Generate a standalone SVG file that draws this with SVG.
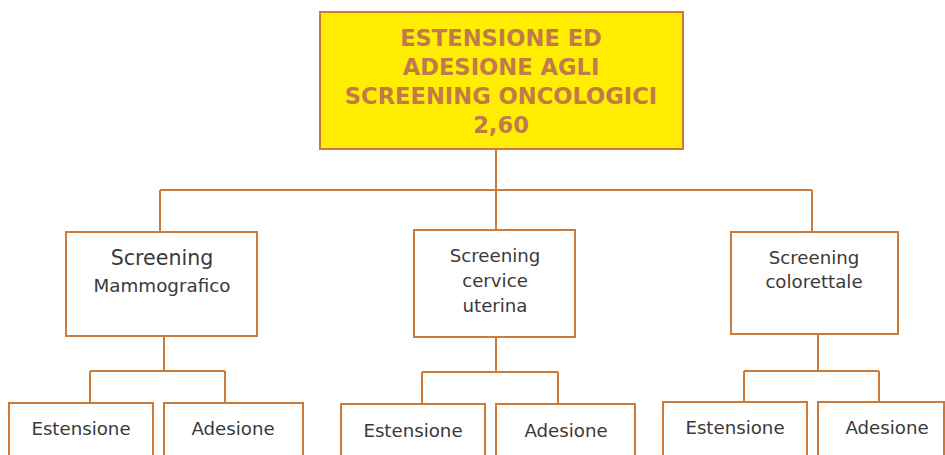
<svg xmlns="http://www.w3.org/2000/svg" width="945" height="455" viewBox="0 0 945 455">
  <style>
    .box { fill: #ffffff; stroke: #cc7a38; stroke-width: 2; }
    .root { fill: #ffee00; stroke: #cc7a38; stroke-width: 2; }
    .wire { fill: none; stroke: #cc7a38; stroke-width: 2; }
    .title { font-family: "DejaVu Sans", Verdana, sans-serif; font-weight: bold; font-size: 22.6px; fill: #c07a4c; text-anchor: middle; }
    .lbl { font-family: "DejaVu Sans", Verdana, sans-serif; fill: #3a3a3a; text-anchor: middle; }
  </style>

  <!-- connectors -->
  <g id="connectors" class="wire">
    <path d="M496 149 V190 M160 190 H812 M160 190 V231 M496 190 V229 M812 190 V231"/>
    <path d="M164 335 V371 M90 371 H225 M90 371 V402 M225 371 V402"/>
    <path d="M496 337 V372 M422 372 H558 M422 372 V403 M558 372 V403"/>
    <path d="M818 334 V371 M744 371 H879 M744 371 V402 M879 371 V402"/>
  </g>

  <!-- top -->
  <g id="root">
    <rect class="root" x="320" y="12" width="363" height="137"/>
    <text class="title" x="501" y="46">ESTENSIONE ED</text>
    <text class="title" x="501" y="75">ADESIONE AGLI</text>
    <text class="title" x="501" y="104">SCREENING ONCOLOGICI</text>
    <text class="title" x="501" y="133">2,60</text>
  </g>

  <!-- second level -->
  <g id="mammografico">
    <rect class="box" x="66" y="232" width="191" height="104"/>
    <text class="lbl" x="162" y="265" font-size="20.6">Screening</text>
    <text class="lbl" x="162" y="292" font-size="18.3">Mammografico</text>
  </g>
  <g id="cervice">
    <rect class="box" x="414" y="230" width="161" height="107"/>
    <text class="lbl" x="495" y="262" font-size="18.2">Screening</text>
    <text class="lbl" x="495" y="287" font-size="18.2">cervice</text>
    <text class="lbl" x="495" y="312" font-size="18.2">uterina</text>
  </g>
  <g id="colorettale">
    <rect class="box" x="731" y="232" width="167" height="102"/>
    <text class="lbl" x="814" y="264" font-size="18.2">Screening</text>
    <text class="lbl" x="814" y="288" font-size="18.2">colorettale</text>
  </g>

  <!-- third level -->
  <g id="estensione-1">
    <rect class="box" x="9" y="403" width="144" height="60"/>
    <text class="lbl" x="81" y="435" font-size="18.2">Estensione</text>
  </g>
  <g id="adesione-1">
    <rect class="box" x="164" y="403" width="139" height="60"/>
    <text class="lbl" x="233" y="435" font-size="18.2">Adesione</text>
  </g>
  <g id="estensione-2">
    <rect class="box" x="341" y="404" width="144" height="60"/>
    <text class="lbl" x="413" y="437" font-size="18.2">Estensione</text>
  </g>
  <g id="adesione-2">
    <rect class="box" x="496" y="404" width="139" height="60"/>
    <text class="lbl" x="566" y="437" font-size="18.2">Adesione</text>
  </g>
  <g id="estensione-3">
    <rect class="box" x="663" y="402" width="144" height="60"/>
    <text class="lbl" x="735" y="434" font-size="18.2">Estensione</text>
  </g>
  <g id="adesione-3">
    <rect class="box" x="818" y="402" width="126" height="60"/>
    <text class="lbl" x="887" y="434" font-size="18.2">Adesione</text>
  </g>
</svg>
